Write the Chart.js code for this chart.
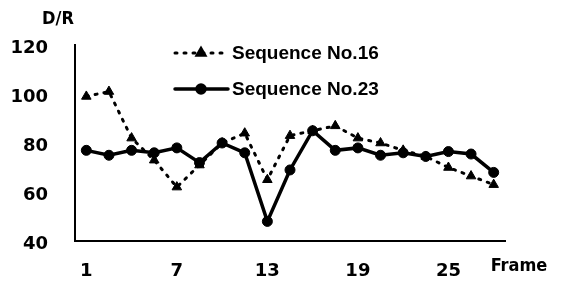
<!DOCTYPE html>
<html>
<head>
<meta charset="utf-8">
<script src="https://cdn.jsdelivr.net/npm/chart.js@4.4.1/dist/chart.umd.min.js"></script>
<style>
  html, body { margin: 0; padding: 0; background: #fff; }
</style>
</head>
<body>
<canvas id="chart" width="562" height="291"></canvas>
<script>
// points are plotted every 1.5 frames, only 1,7,13,19,25 get a label
var frames = ['1', '2.5', '4', '5.5', '7', '8.5', '10', '11.5', '13', '14.5', '16', '17.5', '19', '20.5', '22', '23.5', '25', '26.5', '28'];
var xTickLabels = ['1', '7', '13', '19', '25'];
var seq16 = [99, 101, 82, 73, 62, 71, 80, 84, 65, 83, 85, 87, 82, 80, 77, 74.5, 70, 66.5, 63];
var seq23 = [77, 75, 77, 76, 78, 72, 80, 76, 48, 69, 85, 77, 78, 75, 76, 74.5, 76.5, 75.5, 68];
var yMin = 40, yMax = 120, yStep = 20;

var tickFont = { family: '"DejaVu Sans", sans-serif', size: 18, weight: 'bold' };

// axis titles + legend drawn inside the plot like the original
var extras = {
  id: 'extras',
  afterDraw: function (chart) {
    var ctx = chart.ctx;
    ctx.save();
    ctx.fillStyle = '#000';
    ctx.strokeStyle = '#000';
    ctx.textBaseline = 'middle';
    ctx.textAlign = 'center';
    ctx.font = 'bold 18px "DejaVu Sans Condensed", "DejaVu Sans", sans-serif';
    ctx.fillText('D/R', 58, 19);
    ctx.fillText('Frame', 519, 266);

    chart.data.datasets.forEach(function (ds, i) {
      var y = 53 + i * 36;
      ctx.lineWidth = ds.borderWidth;
      ctx.lineCap = 'round';
      ctx.setLineDash(ds.borderDash || []);
      ctx.beginPath();
      ctx.moveTo(175, y);
      ctx.lineTo(228, y);
      ctx.stroke();
      ctx.setLineDash([]);
      Chart.helpers.drawPoint(ctx, { pointStyle: ds.pointStyle, radius: ds.pointRadius - 1, borderWidth: 1, rotation: 0 }, 201, y);
      ctx.fill();
      ctx.textAlign = 'left';
      ctx.font = 'bold 19px "Liberation Sans", Arial, sans-serif';
      ctx.fillText(ds.label, 232, y + 1);
    });
    ctx.restore();
  }
};

new Chart(document.getElementById('chart'), {
  type: 'line',
  data: {
    labels: frames,
    datasets: [
      {
        label: 'Sequence No.16',
        data: seq16,
        borderColor: '#000',
        backgroundColor: '#000',
        borderWidth: 3,
        borderDash: [2, 7],
        borderCapStyle: 'round',
        pointStyle: 'triangle',
        pointRadius: 5.5,
        pointBorderWidth: 1,
        tension: 0
      },
      {
        label: 'Sequence No.23',
        data: seq23,
        borderColor: '#000',
        backgroundColor: '#000',
        borderWidth: 3.5,
        pointStyle: 'circle',
        pointRadius: 5,
        pointBorderWidth: 1,
        tension: 0
      }
    ]
  },
  options: {
    responsive: false,
    animation: false,
    devicePixelRatio: 1,
    layout: { padding: { top: 45, right: 57, left: 0, bottom: 0 } },
    plugins: {
      legend: { display: false },
      tooltip: { enabled: false }
    },
    scales: {
      x: {
        type: 'category',
        offset: true,
        grid: { display: false, drawTicks: false },
        border: { display: true, color: '#000', width: 2 },
        ticks: {
          autoSkip: false,
          maxRotation: 0,
          color: '#000',
          font: tickFont,
          padding: 20,
          callback: function (val, idx) {
            var lab = frames[idx];
            return xTickLabels.indexOf(lab) >= 0 ? lab : '';
          }
        },
        afterFit: function (s) { s.height = 50; }
      },
      y: {
        min: yMin,
        max: yMax,
        grid: { display: false, drawTicks: false },
        border: { display: true, color: '#000', width: 2 },
        ticks: { stepSize: yStep, color: '#000', font: tickFont, padding: 27, labelOffset: 3 },
        afterFit: function (s) { s.width = 75; }
      }
    }
  },
  plugins: [extras]
});
</script>
</body>
</html>
